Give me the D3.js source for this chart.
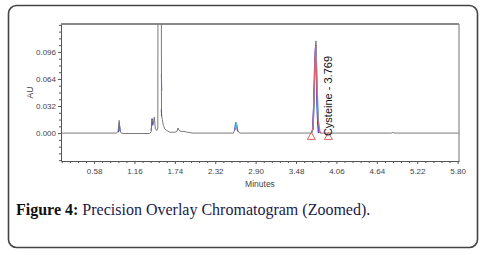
<!DOCTYPE html>
<html lang="en">
<head>
  <meta charset="UTF-8">
  <title>Precision Overlay Chromatogram (Zoomed)</title>
  <script src="https://d3js.org/d3.v7.min.js"></script>
  <style>
    body { margin: 0; background: #fff; }
    .trace { fill: none; stroke-width: 1; }
    .tick text { font-family: "Liberation Sans", Arial, sans-serif; font-size: 8px; fill: #444; }
  </style>
</head>
<body>
  <script>
    // x tick labels (minutes) and y tick labels (AU)
    const xTicks = [0.58, 1.16, 1.74, 2.32, 2.90, 3.48, 4.06, 4.64, 5.22, 5.80];
    const yTicks = [0.000, 0.032, 0.064, 0.096];

    // main (grey) trace: [minutes, AU]
    const mainTrace = [
      [0.105, 0], [0.90, 0], [0.925, 0.002], [0.94, 0.015], [0.952, 0.003], [0.97, 0],
      [1.00, -0.0005], [1.38, -0.0005], [1.40, 0.002], [1.415, 0.016], [1.43, 0.011],
      [1.445, 0.019], [1.46, 0.005], [1.48, 0.003], [1.495, 0.006], [1.505, 0.6],
      [1.54, 0.6], [1.548, 0.022], [1.56, 0.016], [1.575, 0.009], [1.595, 0.005],
      [1.625, 0.003], [1.67, 0.001], [1.74, 0.001], [1.77, 0.002], [1.785, 0.006],
      [1.80, 0.003], [1.83, 0.002], [1.87, 0.002], [1.92, 0.001], [2.00, 0],
      [2.58, 0], [2.60, 0.004], [2.615, 0.013], [2.628, 0.011], [2.645, 0.003], [2.67, 0],
      [3.70, 0], [3.725, 0.004], [3.74, 0.03], [3.752, 0.075], [3.766, 0.109],
      [3.775, 0.085], [3.785, 0.045], [3.795, 0.018], [3.81, 0.004], [3.825, 0],
      [4.85, 0], [4.87, 0.001], [4.89, 0], [5.82, 0]
    ];

    // overlaid injections, peak regions only (null = gap)
    const blueTrace = [
      [0.93, 0.001], [0.942, 0.012], [0.955, 0.002], [0.96, null],
      [1.40, 0.003], [1.413, 0.017], [1.425, 0.009], [1.44, null],
      [1.547, 0.07], [1.551, 0.05], [1.553, null],
      [2.60, 0.003], [2.611, 0.012], [2.625, 0.009], [2.64, 0.002], [2.65, null],
      [3.72, 0.004], [3.74, 0.05], [3.758, 0.1], [3.77, 0.07], [3.785, 0.02], [3.80, 0]
    ];
    const purpleTrace = [
      [1.545, 0.028], [1.55, 0.02], [1.555, null],
      [3.70, 0], [3.72, 0.005], [3.732, 0.035], [3.745, 0.08], [3.76, 0.104],
      [3.77, 0.085], [3.78, 0.045], [3.792, 0.018], [3.805, 0.003], [3.815, 0]
    ];
    const cyanTrace = [
      [2.61, 0.006], [2.62, 0.012], [2.63, 0.006], [2.64, null],
      [3.71, 0], [3.728, 0.01], [3.742, 0.05], [3.757, 0.095], [3.768, 0.1],
      [3.778, 0.075], [3.79, 0.045], [3.80, 0.02], [3.812, 0.005], [3.825, 0]
    ];
    const redTrace = [
      [3.705, 0], [3.725, 0.008], [3.738, 0.045], [3.752, 0.09], [3.764, 0.103],
      [3.774, 0.07], [3.786, 0.035], [3.798, 0.015], [3.812, 0.008], [3.825, 0.002], [3.84, 0]
    ];

    // blue drawn under the grey trace, the others above it
    const traces = [
      { data: blueTrace, color: "#1a1acc" },
      { data: mainTrace, color: "#7a7a7a" },
      { data: purpleTrace, color: "#7a30c8" },
      { data: cyanTrace, color: "#40c8d0" },
      { data: redTrace, color: "#e06070" }
    ];

    // integration start/end markers (minutes)
    const markers = [3.70, 3.945];
    const peakLabel = "Cysteine - 3.769";

    const W = 483, H = 255;
    const plot = { left: 61, right: 459, top: 24, bottom: 161 };

    const svg = d3.select("body").append("svg")
      .attr("width", W).attr("height", H);

    // outer rounded frame
    svg.append("rect")
      .attr("x", 8.5).attr("y", 5.5)
      .attr("width", 469).attr("height", 242)
      .attr("rx", 8)
      .attr("fill", "#fff")
      .attr("stroke", "#444")
      .attr("stroke-width", 1.6);

    const x = d3.scaleLinear().domain([0.105, 5.82]).range([plot.left, plot.right]);
    const y = d3.scaleLinear().domain([-0.033, 0.129]).range([plot.bottom, plot.top]);

    svg.append("clipPath").attr("id", "clip")
      .append("rect")
      .attr("x", plot.left).attr("y", plot.top)
      .attr("width", plot.right - plot.left).attr("height", plot.bottom - plot.top);

    // x axis
    svg.append("g")
      .attr("transform", `translate(0,${plot.bottom})`)
      .call(d3.axisBottom(x).tickValues(xTicks).tickSize(3).tickSizeOuter(0).tickPadding(4)
        .tickFormat(d3.format(".2f")));
    const xMinor = d3.range(0.116, 5.82, 0.116).filter(v => !xTicks.some(t => Math.abs(t - v) < 1e-6));
    svg.append("g")
      .attr("transform", `translate(0,${plot.bottom})`)
      .call(d3.axisBottom(x).tickValues(xMinor).tickSize(2).tickFormat(""))
      .call(g => g.select(".domain").remove());

    // y axis
    svg.append("g")
      .attr("transform", `translate(${plot.left},0)`)
      .call(d3.axisLeft(y).tickValues(yTicks).tickSize(3).tickSizeOuter(0).tickPadding(2)
        .tickFormat(d3.format(".3f")));
    const yMinor = d3.range(-0.032, 0.129, 0.008).filter(v => !yTicks.some(t => Math.abs(t - v) < 1e-6));
    svg.append("g")
      .attr("transform", `translate(${plot.left},0)`)
      .call(d3.axisLeft(y).tickValues(yMinor).tickSize(2).tickFormat(""))
      .call(g => g.select(".domain").remove());

    svg.selectAll(".domain, .tick line").attr("stroke", "#555");

    // top / right frame of the plot area
    svg.append("line")
      .attr("x1", plot.left).attr("x2", plot.right)
      .attr("y1", plot.top).attr("y2", plot.top)
      .attr("stroke", "#888").attr("stroke-width", 2);
    svg.append("line")
      .attr("x1", plot.right).attr("x2", plot.right)
      .attr("y1", plot.top).attr("y2", plot.bottom)
      .attr("stroke", "#888").attr("stroke-width", 1.2);

    // traces
    const line = d3.line()
      .defined(d => d[1] !== null)
      .x(d => x(d[0]))
      .y(d => y(d[1]));

    svg.append("g").attr("clip-path", "url(#clip)")
      .selectAll("path")
      .data(traces)
      .join("path")
      .attr("class", "trace")
      .attr("stroke", d => d.color)
      .attr("d", d => line(d.data));

    // markers
    svg.selectAll(".marker")
      .data(markers)
      .join("path")
      .attr("class", "marker")
      .attr("d", d3.symbol(d3.symbolTriangle, 28))
      .attr("transform", d => `translate(${x(d)},${y(0) + 4})`)
      .attr("fill", "#fff")
      .attr("stroke", "#d03a3a")
      .attr("stroke-width", 0.8);

    // peak label
    svg.append("text")
      .attr("transform", `translate(${x(3.99)},${y(0) + 3}) rotate(-90)`)
      .attr("font-family", "Liberation Sans, Arial, sans-serif")
      .attr("font-size", 11)
      .attr("fill", "#111")
      .text(peakLabel);

    // axis titles
    svg.append("text")
      .attr("x", (plot.left + plot.right) / 2).attr("y", 187)
      .attr("text-anchor", "middle")
      .attr("font-family", "Liberation Sans, Arial, sans-serif")
      .attr("font-size", 8.5).attr("fill", "#444")
      .text("Minutes");
    svg.append("text")
      .attr("transform", `translate(33,${(plot.top + plot.bottom) / 2}) rotate(-90)`)
      .attr("text-anchor", "middle")
      .attr("font-family", "Liberation Sans, Arial, sans-serif")
      .attr("font-size", 8.5).attr("fill", "#444")
      .text("AU");

    // caption
    const cap = svg.append("text")
      .attr("x", 16).attr("y", 215)
      .attr("font-family", "Liberation Serif, Times New Roman, serif")
      .attr("font-size", 16).attr("fill", "#111");
    cap.append("tspan").attr("font-weight", "bold").text("Figure 4:");
    cap.append("tspan").attr("fill", "#1a1a4a").text(" Precision Overlay Chromatogram (Zoomed).");
  </script>
</body>
</html>
